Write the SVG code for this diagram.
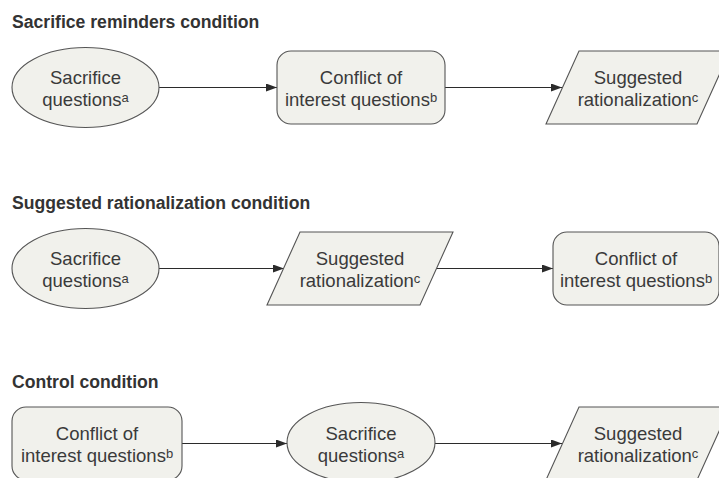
<svg xmlns="http://www.w3.org/2000/svg" width="719" height="478" viewBox="0 0 719 478">
<defs>
<marker id="arr" markerUnits="userSpaceOnUse" markerWidth="12" markerHeight="10" refX="11" refY="4" orient="auto">
<path d="M0,0 L11,4 L0,8 Z" fill="#2b2b2b"/>
</marker>
<style>
.title{font-family:"Liberation Sans",Arial,sans-serif;font-weight:bold;font-size:17.6px;fill:#333}
.lbl{font-family:"Liberation Sans",Arial,sans-serif;font-size:18.5px;fill:#3a3a3a;text-anchor:middle}
.sup{font-size:13px}
.node{fill:#f1f1ec;stroke:#555;stroke-width:1.1}
.conn{stroke:#2b2b2b;stroke-width:1.2;fill:none;marker-end:url(#arr)}
</style>
</defs>
<rect width="719" height="478" fill="#fff"/>

<text class="title" x="12" y="28">Sacrifice reminders condition</text>
<text class="title" x="12" y="209">Suggested rationalization condition</text>
<text class="title" x="12" y="388">Control condition</text>

<g id="connectors">
<line class="conn" x1="159" y1="87.5" x2="277" y2="87.5"/>
<line class="conn" x1="445" y1="87.5" x2="562" y2="87.5"/>
<line class="conn" x1="159" y1="268.5" x2="284" y2="268.5"/>
<line class="conn" x1="436.5" y1="268.5" x2="553" y2="268.5"/>
<line class="conn" x1="182" y1="443.5" x2="287" y2="443.5"/>
<line class="conn" x1="435" y1="443.5" x2="562" y2="443.5"/>
</g>

<g id="r1-sacrifice">
<ellipse class="node" cx="85.5" cy="87.5" rx="73.5" ry="40"/>
<text class="lbl" x="85.5" y="84">Sacrifice</text>
<text class="lbl" x="85.5" y="105.5">questions<tspan class="sup" dy="-4">a</tspan></text>
</g>
<g id="r1-conflict">
<rect class="node" x="277" y="51" width="168" height="73" rx="14"/>
<text class="lbl" x="361" y="84">Conflict of</text>
<text class="lbl" x="361" y="105.5">interest questions<tspan class="sup" dy="-4">b</tspan></text>
</g>
<g id="r1-rational">
<polygon class="node" points="579,51 730,51 697,124 546,124"/>
<text class="lbl" x="638" y="84">Suggested</text>
<text class="lbl" x="638" y="105.5">rationalization<tspan class="sup" dy="-4">c</tspan></text>
</g>

<g id="r2-sacrifice">
<ellipse class="node" cx="85.5" cy="268.5" rx="73.5" ry="40"/>
<text class="lbl" x="85.5" y="265">Sacrifice</text>
<text class="lbl" x="85.5" y="286.5">questions<tspan class="sup" dy="-4">a</tspan></text>
</g>
<g id="r2-rational">
<polygon class="node" points="300,232 453,232 420,305 267,305"/>
<text class="lbl" x="360" y="265">Suggested</text>
<text class="lbl" x="360" y="286.5">rationalization<tspan class="sup" dy="-4">c</tspan></text>
</g>
<g id="r2-conflict">
<rect class="node" x="553" y="232" width="166" height="73" rx="14"/>
<text class="lbl" x="636" y="265">Conflict of</text>
<text class="lbl" x="636" y="286.5">interest questions<tspan class="sup" dy="-4">b</tspan></text>
</g>

<g id="r3-conflict">
<rect class="node" x="12" y="407" width="170" height="73" rx="14"/>
<text class="lbl" x="97" y="440">Conflict of</text>
<text class="lbl" x="97" y="461.5">interest questions<tspan class="sup" dy="-4">b</tspan></text>
</g>
<g id="r3-sacrifice">
<ellipse class="node" cx="361" cy="442.5" rx="74" ry="40"/>
<text class="lbl" x="361" y="440">Sacrifice</text>
<text class="lbl" x="361" y="461.5">questions<tspan class="sup" dy="-4">a</tspan></text>
</g>
<g id="r3-rational">
<polygon class="node" points="579,407 730,407 697,480 546,480"/>
<text class="lbl" x="638" y="440">Suggested</text>
<text class="lbl" x="638" y="461.5">rationalization<tspan class="sup" dy="-4">c</tspan></text>
</g>
</svg>
